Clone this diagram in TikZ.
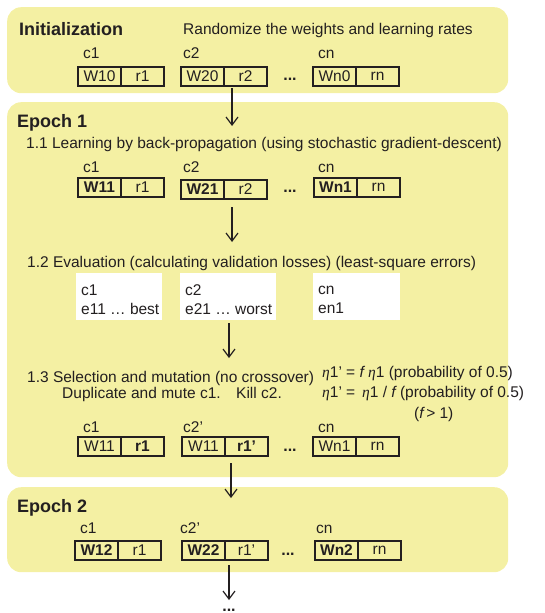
\documentclass[tikz,border=0pt]{standalone}
\usepackage{fontspec}
\setmainfont{Liberation Sans}
\newfontfamily\serifgr{Liberation Serif}
\usetikzlibrary{arrows.meta,fit}
\definecolor{panel}{RGB}{244,240,163}
\definecolor{ink}{RGB}{35,31,32}
\tikzset{
  panelbox/.style={fill=panel, draw=none, rounded corners=14pt, anchor=north west, inner sep=0pt},
  txt/.style={anchor=base west, inner sep=0pt, text=ink, font=\fontsize{15.5}{18}\selectfont},
  titletxt/.style={txt, font=\fontsize{18}{21}\selectfont\bfseries},
  cell/.style={draw=ink, line width=1pt, minimum width=42pt, minimum height=18pt, inner sep=0pt, text=ink, font=\fontsize{15.5}{17}\selectfont, anchor=west},
  chromo/.style={draw=ink, line width=2pt, inner sep=0pt},
  evalbox/.style={fill=white, draw=none, anchor=north west, inner sep=0pt, minimum height=47pt},
  flow/.style={draw=ink, line width=1.2pt, -{Straight Barb[length=8pt,width=12pt,line width=1.2pt]}},
  dots/.style={anchor=base, inner sep=0pt, text=ink, font=\fontsize{16}{18}\selectfont\bfseries}
}
\newcommand{\chrom}[5]{%
  \node[cell] (#1-l) at (#2,#3) {#4};
  \node[cell] (#1-r) at (#1-l.east) {#5};
  \node[chromo, fit=(#1-l)(#1-r)] (#1) {};
}
\newcommand{\et}{{\serifgr\itshape η}}
\newcommand{\ff}{{\itshape f}}
\begin{document}
\begin{tikzpicture}[x=1pt, y=-1pt]
\useasboundingbox (0,0) rectangle (545,613);
\clip (0,0) rectangle (545,613);
% panels
\node[panelbox, minimum width=501pt, minimum height=86pt] (init) at (7,7) {};
\node[panelbox, minimum width=501pt, minimum height=375pt] (ep1) at (7,102) {};
\node[panelbox, minimum width=501pt, minimum height=85pt] (ep2) at (7,487) {};

% Initialization
\node[titletxt] (tinit) at (19,35) {Initialization};
\node[txt] (rand) at (183,34) {Randomize the weights and learning rates};
\node[txt] (i-c1) at (83,58) {c1};
\node[txt] (i-c2) at (183,58) {c2};
\node[txt] (i-cn) at (318,58) {cn};
\chrom{i1}{78}{76}{W10}{r1}
\chrom{i2}{181}{76}{W20}{r2}
\chrom{in}{313}{76}{Wn0}{rn}
\node[dots] (i-dots) at (290,80) {...};

% Epoch 1
\node[titletxt] (tep1) at (17,127) {Epoch 1};
\node[txt] (s11) at (26,148) {1.1 Learning by back-propagation (using stochastic gradient-descent)};
\node[txt] (a-c1) at (83,172) {c1};
\node[txt] (a-c2) at (183,172) {c2};
\node[txt] (a-cn) at (318,172) {cn};
\chrom{a1}{78}{187}{\textbf{W11}}{r1}
\chrom{a2}{181}{189}{\textbf{W21}}{r2}
\chrom{an}{314}{187}{\textbf{Wn1}}{rn}
\node[dots] (a-dots) at (290,192) {...};

\node[txt] (s12) at (27,267) {1.2 Evaluation (calculating validation losses) (least-square errors)};
\node[evalbox, minimum width=86pt] (ev1) at (76,273) {};
\node[evalbox, minimum width=96pt] (ev2) at (180,273) {};
\node[evalbox, minimum width=87pt] (evn) at (313,273) {};
\node[txt] (ev1a) at (81,295) {c1};
\node[txt] (ev1b) at (81,314) {e11 … best};
\node[txt] (ev2a) at (185,295) {c2};
\node[txt] (ev2b) at (185,314) {e21 … worst};
\node[txt] (evna) at (318,294) {cn};
\node[txt] (evnb) at (318,313) {en1};

\node[txt] (s13) at (27,382) {1.3 Selection and mutation (no crossover)};
\node[txt] (eq1) at (322,377) {\et1’ = \ff{} \et1 (probability of 0.5)};
\node[txt] (eq2) at (322,397) {\et1’ = \,\et1 / \ff{} (probability of 0.5)};
\node[txt] (eq3) at (414,418) {(\ff{}\,> 1)};
\node[txt] (dup) at (62,398) {Duplicate and mute c1.};
\node[txt] (kill) at (236,398) {Kill c2.};
\node[txt] (b-c1) at (83,432) {c1};
\node[txt] (b-c2) at (183,432) {c2’};
\node[txt] (b-cn) at (318,432) {cn};
\chrom{b1}{78}{446}{W11}{\textbf{r1}}
\chrom{b2}{182}{446}{W11}{\textbf{r1'}}
\chrom{bn}{313}{446}{Wn1}{rn}
\node[dots] (b-dots) at (290,451) {...};

% Epoch 2
\node[titletxt] (tep2) at (17,512) {Epoch 2};
\node[txt] (c-c1) at (80,533) {c1};
\node[txt] (c-c2) at (180,533) {c2’};
\node[txt] (c-cn) at (316,533) {cn};
\chrom{c1}{75}{550}{\textbf{W12}}{r1}
\chrom{c2}{182}{550}{\textbf{W22}}{r1’}
\chrom{cn}{315}{550}{\textbf{Wn2}}{rn}
\node[dots] (c-dots) at (288,555) {...};

% arrows
\coordinate (a1s) at (232,88);  \coordinate (a1e) at (232,126);
\coordinate (a2s) at (232,207); \coordinate (a2e) at (232,242);
\coordinate (a3s) at (229,323); \coordinate (a3e) at (229,358);
\coordinate (a4s) at (231,463); \coordinate (a4e) at (231,498);
\coordinate (a5s) at (229,565); \coordinate (a5e) at (229,600);
\draw[flow] (a1s) -- (a1e);
\draw[flow] (a2s) -- (a2e);
\draw[flow] (a3s) -- (a3e);
\draw[flow] (a4s) -- (a4e);
\draw[flow] (a5s) -- (a5e);
\node[dots] (enddots) at (229,611) {...};
\end{tikzpicture}
\end{document}
